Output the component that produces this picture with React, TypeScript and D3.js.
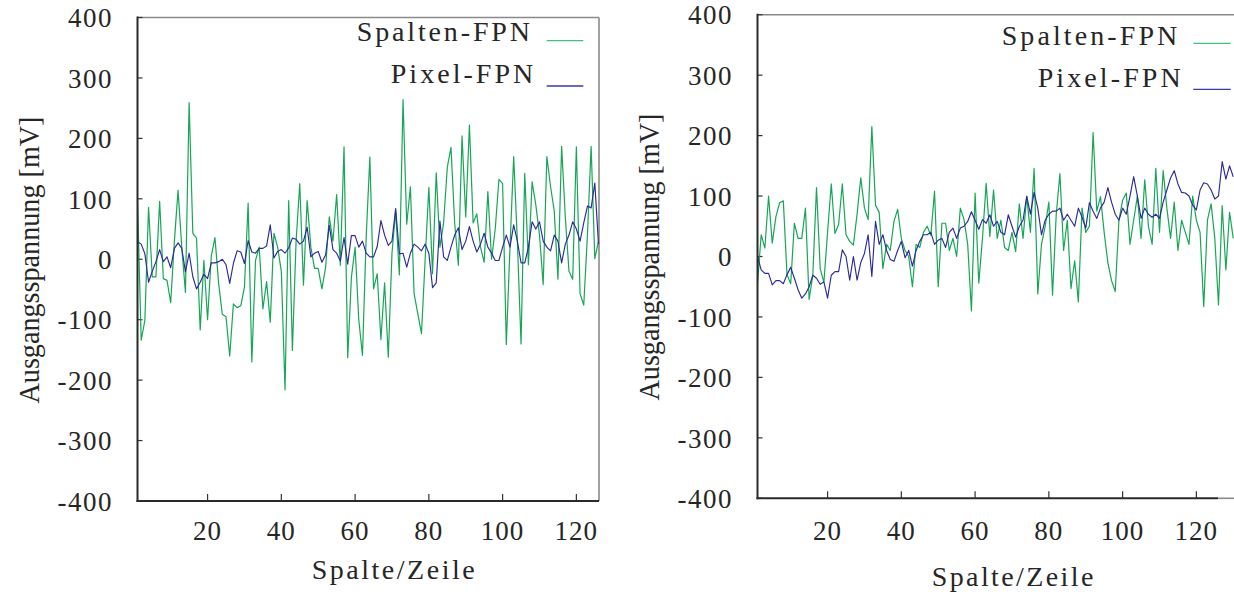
import React from 'react';
import * as d3 from 'd3';

// ---- data (column/row index starts at 1) ----
const leftSpalten = [98,-134,-101,86,-29,-29,96,-32,-35,-72,30,114,20,-55,259,43,35,-117,-2,-100,5,36,-40,-91,-95,-160,-74,-80,-77,-46,93,-170,-2,20,-82,-37,-104,43,20,-20,-216,97,-151,30,125,-43,97,20,-15,-15,-49,-14,70,30,107,-10,186,-163,-30,20,-100,-159,35,169,-49,-24,-133,-39,-162,10,80,-26,264,58,120,-57,-90,-123,0,119,-24,143,20,60,152,185,60,-10,204,70,222,60,75,20,-5,112,0,50,132,125,-141,20,170,30,-140,142,-9,128,90,40,-42,170,120,80,-33,187,70,-20,-33,186,-57,-76,40,187,1,30];
const leftPixel = [29,25,9,-38,-20,-4,16,-4,4,-14,18,27,18,-21,10,-29,-49,-38,-25,-32,-6,-6,-4,0,-9,-40,-7,14,12,-7,31,12,10,18,18,22,57,2,13,16,10,19,35,33,25,30,53,4,10,13,-5,7,56,16,10,-3,36,-8,39,39,20,30,10,4,4,21,64,40,23,30,84,9,10,-13,10,25,20,14,25,10,-47,-39,63,4,-2,20,40,52,16,30,54,30,12,25,43,20,10,-2,-2,20,40,20,57,30,-6,-6,20,62,50,62,30,20,14,40,30,-6,25,40,62,50,30,60,88,85,126,25];
const rightSpalten = [-45,36,14,100,22,66,89,92,-30,-45,55,30,30,80,-71,-31,114,-20,-43,40,120,38,53,120,36,25,19,70,130,80,61,215,85,73,-20,20,10,58,78,30,10,0,-50,20,15,40,50,35,108,-50,55,55,10,30,0,80,61,20,-90,105,-44,30,121,33,110,30,60,15,10,40,8,87,30,99,40,146,-62,20,50,90,-64,70,137,10,60,-53,-7,-75,80,40,50,205,75,99,40,-10,-40,-58,60,93,105,20,60,100,30,127,50,20,146,40,142,80,30,90,10,60,40,20,100,60,40,-83,60,87,30,-80,84,-22,73,30];
const rightPixel = [0,-22,-28,-28,-47,-40,-40,-45,-30,-18,-36,-55,-69,-62,-50,-31,-36,-46,-42,-69,-31,-25,-25,11,0,-39,0,-39,-10,5,36,-33,58,20,36,10,-5,-8,10,25,-2,10,-16,10,25,36,36,40,20,27,30,15,40,47,30,47,50,58,74,60,45,61,55,69,50,58,40,36,69,50,32,50,60,100,70,106,80,36,60,70,75,75,80,60,70,60,50,80,65,47,89,75,63,80,90,114,90,70,60,80,70,100,132,100,63,80,70,65,70,63,90,110,130,142,120,106,105,100,85,77,110,122,120,110,95,100,157,128,150,132];

const yTicks = [-400, -300, -200, -100, 0, 100, 200, 300, 400];
const xTicks = [20, 40, 60, 80, 100, 120];
const seriesLabels = ['Spalten-FPN', 'Pixel-FPN'];
const yTitle = 'Ausgangsspannung [mV]';
const xTitle = 'Spalte/Zeile';

const GREEN = '#17a657';
const BLUE = '#2b2b98';
const GREEN_LEG = '#3fc37c';
const BLUE_LEG = '#3a3aa8';
const INK = '#262626';
const FONT = '"Liberation Serif", "Times New Roman", serif';

type PanelCfg = {
  spalten: number[];
  pixel: number[];
  left: number; right: number; top: number; bottom: number;
  frameRight: number; darkBottomEnd: number; showRight: boolean;
  tickLabelRight: number; yTitleX: number; yTitleY: number;
  xTickBase: number; xTitleX: number; xTitleBase: number; xTitleLen: number;
  legTextX: number[]; legTextLen: number[]; legBase: number[];
  legLineX: [number, number]; legLineY: number[];
};

function Panel({ c }: { c: PanelCfg }) {
  const x = d3.scaleLinear().domain([1, 126]).range([c.left, c.right]);
  const y = d3.scaleLinear().domain([-400, 400]).range([c.bottom, c.top]);
  const line = d3.line<number>().x((_, i) => x(i + 1)).y((v) => y(v));
  return (
    <g>
      {/* frame */}
      <line x1={c.left} x2={c.frameRight} y1={c.top} y2={c.top} stroke="#8a8a8a" strokeWidth={1.6} />
      {c.showRight && (
        <line x1={c.frameRight} x2={c.frameRight} y1={c.top} y2={c.bottom} stroke="#8a8a8a" strokeWidth={1.6} />
      )}
      {!c.showRight && (
        <line x1={c.darkBottomEnd} x2={c.frameRight} y1={c.bottom} y2={c.bottom} stroke="#8a8a8a" strokeWidth={1.6} />
      )}
      {/* y ticks */}
      {yTicks.map((t) => (
        <g key={'y' + t}>
          <line x1={c.left} x2={c.left + 5} y1={y(t)} y2={y(t)} stroke="#333" strokeWidth={1.2} />
          <text x={c.tickLabelRight} y={y(t)} dy="0.36em" textAnchor="end" fontFamily={FONT} fontSize={27} letterSpacing={1.5} fill={INK}>
            {t}
          </text>
        </g>
      ))}
      {/* x ticks */}
      {xTicks.map((t) => (
        <g key={'x' + t}>
          <line x1={x(t)} x2={x(t)} y1={c.bottom} y2={c.bottom - 7} stroke="#333" strokeWidth={1.2} />
          <text x={x(t)} y={c.xTickBase} textAnchor="middle" fontFamily={FONT} fontSize={27} letterSpacing={1} fill={INK}>
            {t}
          </text>
        </g>
      ))}
      {/* series */}
      <path d={line(c.spalten) || ''} fill="none" stroke={GREEN} strokeWidth={1.2} strokeLinejoin="round" />
      <path d={line(c.pixel) || ''} fill="none" stroke={BLUE} strokeWidth={1.15} strokeLinejoin="round" />
      {/* dark axes */}
      <line x1={c.left} x2={c.left} y1={c.top - 1} y2={c.bottom + 1} stroke="#2a2a2a" strokeWidth={2} />
      <line x1={c.left - 1} x2={c.darkBottomEnd} y1={c.bottom} y2={c.bottom} stroke="#2a2a2a" strokeWidth={2} />
      {/* legend */}
      {seriesLabels.map((lab, k) => (
        <g key={lab}>
          <text x={c.legTextX[k]} y={c.legBase[k]} fontFamily={FONT} fontSize={28} textLength={c.legTextLen[k]} lengthAdjust="spacing" fill={INK}>
            {lab}
          </text>
          <line x1={c.legLineX[0]} x2={c.legLineX[1]} y1={c.legLineY[k]} y2={c.legLineY[k]} stroke={k === 0 ? GREEN_LEG : BLUE_LEG} strokeWidth={1.3} />
        </g>
      ))}
      {/* titles */}
      <text x={c.xTitleX} y={c.xTitleBase} fontFamily={FONT} fontSize={28} textLength={c.xTitleLen} lengthAdjust="spacing" fill={INK}>
        {xTitle}
      </text>
      <text transform={`translate(${c.yTitleX},${c.yTitleY}) rotate(-90)`} textAnchor="middle" fontFamily={FONT} fontSize={29} textLength={287} lengthAdjust="spacingAndGlyphs" fill={INK}>
        {yTitle}
      </text>
    </g>
  );
}

const leftCfg: PanelCfg = {
  spalten: leftSpalten, pixel: leftPixel,
  left: 137.5, right: 598.5, top: 17.5, bottom: 501,
  frameRight: 599, darkBottomEnd: 599, showRight: true,
  tickLabelRight: 113, yTitleX: 39, yTitleY: 260,
  xTickBase: 540, xTitleX: 311.7, xTitleBase: 579, xTitleLen: 163,
  legTextX: [356.7, 390.7], legTextLen: [173.3, 142.6], legBase: [40.7, 83],
  legLineX: [546.7, 583.3], legLineY: [40.7, 86],
};

const rightCfg: PanelCfg = {
  spalten: rightSpalten, pixel: rightPixel,
  left: 757.5, right: 1218.5, top: 14.7, bottom: 498.3,
  frameRight: 1234, darkBottomEnd: 1218, showRight: false,
  tickLabelRight: 733, yTitleX: 659, yTitleY: 257,
  xTickBase: 540, xTitleX: 931.7, xTitleBase: 586, xTitleLen: 161.7,
  legTextX: [1001.7, 1037.7], legTextLen: [175.6, 143], legBase: [45, 87.3],
  legLineX: [1193.3, 1230.7], legLineY: [43.3, 89.3],
};

export default function App() {
  return (
    <svg width={1234} height={595} style={{ position: 'absolute', left: 0, top: 0, background: '#fff' }}>
      <rect width={1234} height={595} fill="#fff" />
      <Panel c={leftCfg} />
      <Panel c={rightCfg} />
    </svg>
  );
}
